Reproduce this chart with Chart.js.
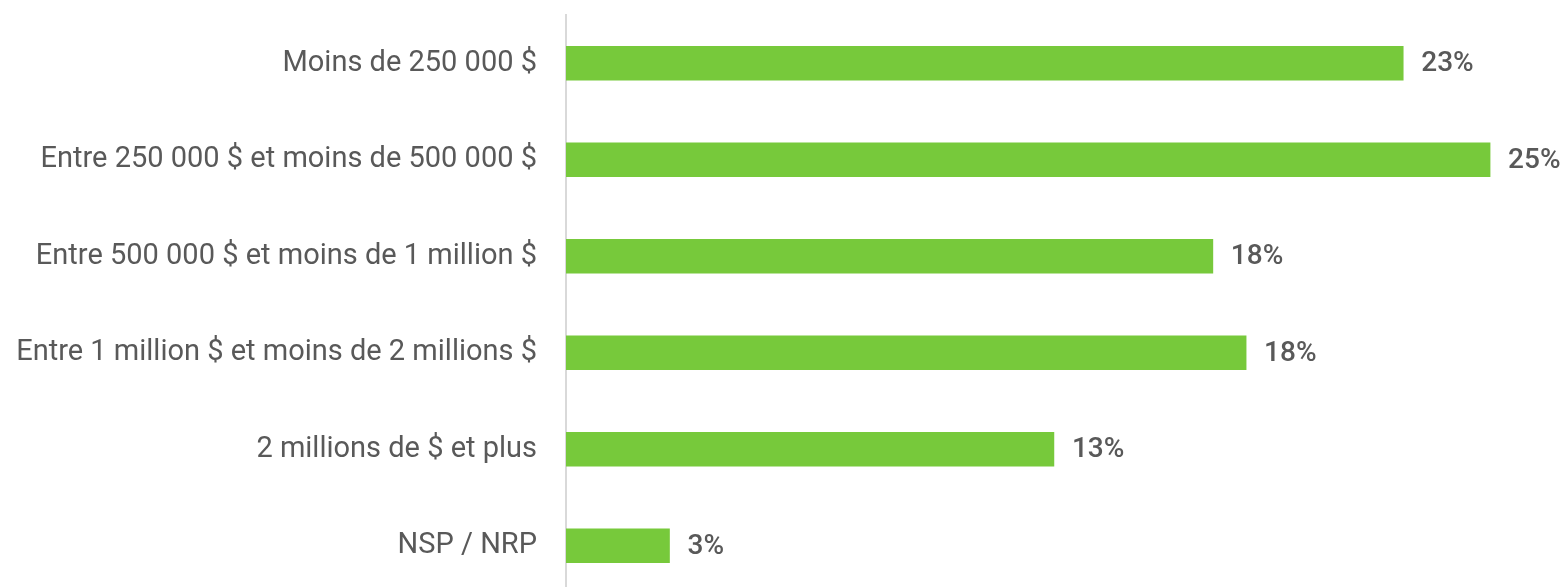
<!DOCTYPE html>
<html>
<head>
<meta charset="utf-8">
<script src="https://cdn.jsdelivr.net/npm/chart.js@4/dist/chart.umd.min.js"></script>
<style>
  html, body { margin: 0; padding: 0; background: #fff; overflow: hidden; }
  #wrap { width: 1564px; height: 600px; position: relative; }
</style>
</head>
<body>
<div id="wrap"><canvas id="chart"></canvas></div>
<script>
const categories = [
  'Moins de 250 000 $',
  'Entre 250 000 $ et moins de 500 000 $',
  'Entre 500 000 $ et moins de 1 million $',
  'Entre 1 million $ et moins de 2 millions $',
  '2 millions de $ et plus',
  'NSP / NRP'
];
const values = [22.65, 25.0, 17.5, 18.4, 13.2, 2.8];
const valueLabels = ['23%', '25%', '18%', '18%', '13%', '3%'];

const textColor = '#595959';

// draws the percentage after each bar
const barLabels = {
  id: 'barLabels',
  afterDatasetsDraw(chart) {
    const ctx = chart.ctx;
    const meta = chart.getDatasetMeta(0);
    ctx.save();
    ctx.font = '500 28px Roboto';
    ctx.fillStyle = textColor;
    ctx.textAlign = 'left';
    ctx.textBaseline = 'middle';
    meta.data.forEach((bar, i) => {
      ctx.fillText(valueLabels[i], bar.x + 18, bar.y + 1);
    });
    ctx.restore();
  }
};

const ctx = document.getElementById('chart');
const myChart = new Chart(ctx, {
  type: 'bar',
  data: {
    labels: categories,
    datasets: [{
      data: values,
      backgroundColor: '#77c93b',
      borderWidth: 0,
      barThickness: 34
    }]
  },
  options: {
    indexAxis: 'y',
    responsive: true,
    maintainAspectRatio: false,
    animation: false,
    layout: { padding: { top: 15, bottom: 6, left: 0, right: 0 } },
    plugins: {
      legend: { display: false },
      tooltip: { enabled: false }
    },
    scales: {
      x: {
        display: false,
        min: 0,
        max: 27
      },
      y: {
        afterFit: (axis) => {
          axis.width = 566;
          axis.paddingTop = 0;
          axis.paddingBottom = 0;
        },
        grid: { display: false, drawTicks: false },
        border: { display: true, color: '#d9d9d9', width: 2 },
        ticks: {
          padding: 29,
          color: textColor,
          font: { family: 'Roboto', size: 29 }
        }
      }
    }
  },
  plugins: [barLabels]
});
</script>
</body>
</html>
